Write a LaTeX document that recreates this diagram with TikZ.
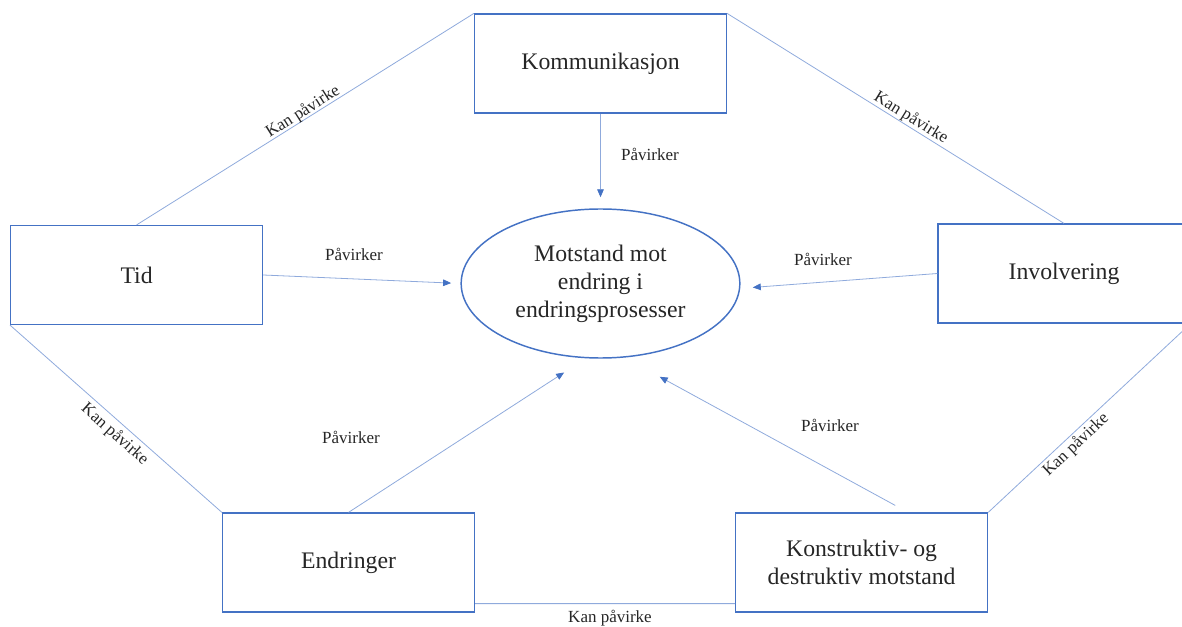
\documentclass[tikz,border=0pt]{standalone}
\usepackage{fontspec}
\setmainfont{Liberation Serif}
\usetikzlibrary{arrows.meta,shapes.geometric}
\definecolor{boxblue}{RGB}{68,114,196}
\definecolor{lineblue}{RGB}{143,170,220}
\definecolor{txt}{RGB}{38,38,38}

\begin{document}
\begin{tikzpicture}[x=0.75pt,y=-0.75pt,
    box/.style={draw=boxblue,line width=0.9pt,minimum width=189pt,minimum height=74.25pt,inner sep=0pt,align=center,text=txt,font=\fontsize{17.8}{21}\selectfont},
    goal/.style={ellipse,draw=boxblue,line width=1.1pt,minimum width=209pt,minimum height=111.75pt,inner sep=0pt,align=center,text=txt,font=\fontsize{17.8}{21}\selectfont},
    link/.style={draw=lineblue,line width=0.6pt},
    push/.style={link,-{Triangle[length=6pt,width=5pt,color=boxblue]}},
    lbl/.style={text=txt,inner sep=1pt,font=\fontsize{12.75}{15}\selectfont}]
    \useasboundingbox (0,0) rectangle (1182,627);
    \clip (0,0) rectangle (1182,627);
    \path
      (600.5,63.5) node[box] (kom) {Kommunikasjon}
      (136.6,275) node[box] (tid) {Tid}
      (1064,273.5) node[box] (inv) {Involvering}
      (348.5,562.5) node[box] (endr) {Endringer}
      (861.6,562.5) node[box] (kon) {Konstruktiv- og\\destruktiv motstand}
      (600.5,283.5) node[goal] (mot) {Motstand mot\\endring i\\endringsprosesser};
    \draw[link]
      (tid.north) -- (kom.north west)
      (kom.north east) -- (inv.north)
      (tid.south west) -- (endr.north west)
      (kon.north east) -- (inv.south east)
      ([yshift=6.75pt]endr.south east) -- ([yshift=6.75pt]kon.south west);
    \path
      (kom.south) edge[push,shorten >=8.25pt] (mot.north)
      (tid.east) edge[push,shorten >=7pt] (mot.west)
      (inv.west) edge[push,shorten >=9.4pt] (mot.358)
      (endr.north) edge[push,shorten >=19.5pt] (mot.259)
      ([xshift=34.8pt]kon.north) edge[push,shorten <=10.9pt,shorten >=30pt] (mot.288);
    \path[every node/.style=lbl]
      (650,154) node (p1) {Påvirker}
      (354,254) node (p2) {Påvirker}
      (823,259) node (p3) {Påvirker}
      (351,437) node (p4) {Påvirker}
      (830,425) node (p5) {Påvirker}
      (303,112) node[rotate=32.2] (k1) {Kan påvirke}
      (911,118) node[rotate=-31.9] (k2) {Kan påvirke}
      (114.7,434.5) node[rotate=-41.7] (k3) {Kan påvirke}
      (1076,445) node[rotate=43.2] (k4) {Kan påvirke}
      (610,618) node (k5) {Kan påvirke};
  \end{tikzpicture}
\end{document}
